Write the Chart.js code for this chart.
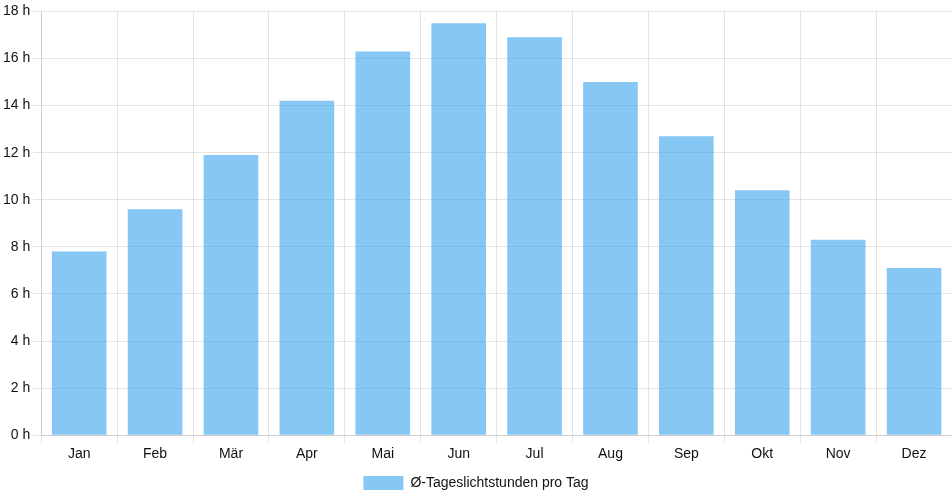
<!DOCTYPE html>
<html>
<head>
<meta charset="utf-8">
<script src="https://cdn.jsdelivr.net/npm/chart.js@4.4.0/dist/chart.umd.min.js"></script>
<style>
  html, body { margin: 0; padding: 0; background: #fff; }
  #wrap { width: 952px; height: 500px; }
</style>
</head>
<body>
<div id="wrap"><canvas id="myChart"></canvas></div>
<script>
// Monate und durchschnittliche Tageslichtstunden
const monate = ['Jan', 'Feb', 'Mär', 'Apr', 'Mai', 'Jun', 'Jul', 'Aug', 'Sep', 'Okt', 'Nov', 'Dez'];
const stunden = [7.8, 9.6, 11.9, 14.2, 16.3, 17.5, 16.9, 15.0, 12.7, 10.4, 8.3, 7.1];
const serienName = 'Ø-Tageslichtstunden pro Tag';

Chart.defaults.font.family = 'Arial, "Liberation Sans", Helvetica, sans-serif';
Chart.defaults.font.size = 14;
Chart.defaults.color = '#111';

const ctx = document.getElementById('myChart').getContext('2d');
const chart = new Chart(ctx, {
  type: 'bar',
  data: {
    labels: monate,
    datasets: [{
      label: serienName,
      data: stunden,
      backgroundColor: 'rgba(54, 162, 235, 0.6)',
      borderColor: 'rgba(54, 162, 235, 0.6)',
      borderWidth: 0
    }]
  },
  options: {
    responsive: true,
    maintainAspectRatio: false,
    animation: false,
    plugins: {
      legend: {
        position: 'bottom',
        labels: { boxWidth: 40 }
      },
      tooltip: { enabled: false }
    },
    scales: {
      x: {
        grid: { color: 'rgba(0,0,0,0.1)' }
      },
      y: {
        min: 0,
        max: 18,
        ticks: {
          stepSize: 2,
          callback: function(v) { return v + ' h'; }
        },
        grid: { color: 'rgba(0,0,0,0.1)' }
      }
    }
  }
});
</script>
</body>
</html>
